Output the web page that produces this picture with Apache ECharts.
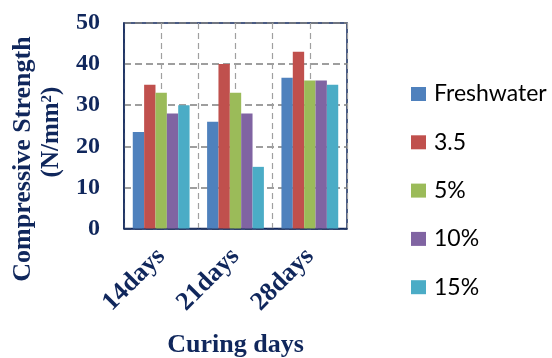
<!DOCTYPE html>
<html>
<head>
<meta charset="utf-8">
<style>
  html, body { margin: 0; padding: 0; background: #ffffff; }
  #chart { width: 552px; height: 358px; }
</style>
<script src="https://cdn.jsdelivr.net/npm/echarts@6/dist/echarts.min.js"></script>
</head>
<body>
<div id="chart"></div>
<script>
// Curing ages on the category axis
var categories = ['14days', '21days', '28days'];

// Compressive strength (N/mm²) per mixing water type
var freshwater = [23.5, 26, 36.7];
var sea35 = [35, 40, 43];
var salt5 = [33, 33, 36];
var salt10 = [28, 28, 36];
var salt15 = [30, 15, 35];

var seriesNames = ['Freshwater', '3.5', '5%', '10%', '15%'];
var seriesColors = ['#4f81bd', '#c0504d', '#9bbb59', '#8064a2', '#4bacc6'];
var seriesValues = [freshwater, sea35, salt5, salt10, salt15];

var navy = '#10275c';
var serif = '"Liberation Serif", "Times New Roman", serif';

var chart = echarts.init(document.getElementById('chart'), null, { renderer: 'canvas' });

var series = seriesNames.map(function (name, i) {
  return {
    name: name,
    type: 'bar',
    xAxisIndex: 0,
    yAxisIndex: 0,
    data: seriesValues[i],
    barGap: '0%',
    barCategoryGap: '23.6%',
    itemStyle: { color: seriesColors[i] },
    emphasis: { disabled: true }
  };
});

chart.setOption({
  animation: false,
  backgroundColor: '#ffffff',
  grid: {
    left: 124, right: 205, top: 23, bottom: 129.5,
    outerBoundsMode: 'none',
    containLabel: false,
    show: true, borderColor: navy, borderWidth: 1.5,
    backgroundColor: 'transparent'
  },
  legend: {
    orient: 'vertical',
    left: 406, top: 77,
    itemWidth: 15, itemHeight: 14, itemGap: 24.3,
    icon: 'rect',
    data: seriesNames,
    textStyle: {
      fontFamily: 'Lato, "Open Sans", sans-serif',
      fontSize: 23, color: '#000000', lineHeight: 24,
      padding: [0, 0, 0, 3]
    }
  },
  xAxis: [
    {
      type: 'category',
      data: categories,
      axisLine: { show: true, lineStyle: { color: navy, width: 1.5 } },
      axisTick: { show: false },
      splitLine: { show: false },
      axisLabel: {
        rotate: 45, margin: 24,
        fontFamily: serif, fontWeight: 'bold', fontSize: 26, color: navy
      },
      name: 'Curing days',
      nameLocation: 'middle',
      nameGap: 104,
      nameTextStyle: { fontFamily: serif, fontWeight: 'bold', fontSize: 26, color: navy }
    },
    {
      // hidden helper axis: dashed verticals at category centres and boundaries
      type: 'value',
      min: 0, max: 6, interval: 1,
      position: 'bottom',
      axisLine: { show: false },
      axisTick: { show: false },
      axisLabel: { show: false },
      splitLine: { show: true, lineStyle: { color: '#a0a0a0', type: [6, 4], width: 1.2 } }
    }
  ],
  yAxis: {
    type: 'value',
    min: 0, max: 50, interval: 10,
    axisLine: { show: true, lineStyle: { color: navy, width: 1.5 } },
    axisTick: { show: false },
    splitLine: { show: true, lineStyle: { color: '#7f7f7f', type: [7, 4], width: 1.5 } },
    axisLabel: {
      margin: 24,
      fontFamily: serif, fontWeight: 'bold', fontSize: 24, color: navy
    }
  },
  graphic: [
    {
      type: 'text',
      x: 23, y: 159, rotation: Math.PI / 2,
      style: {
        text: 'Compressive Strength',
        fontFamily: serif, fontWeight: 'bold', fontSize: 26, fill: navy,
        align: 'center', verticalAlign: 'middle'
      }
    },
    {
      type: 'text',
      x: 52, y: 132, rotation: Math.PI / 2,
      style: {
        text: '(N/mm{sup|2})',
        fontFamily: serif, fontWeight: 'bold', fontSize: 25, fill: navy,
        align: 'center', verticalAlign: 'middle',
        rich: {
          sup: { fontFamily: serif, fontWeight: 'bold', fontSize: 15, fill: navy, verticalAlign: 'top', padding: [0, 0, 9, 0] }
        }
      }
    }
  ],
  series: series
});
</script>
</body>
</html>
